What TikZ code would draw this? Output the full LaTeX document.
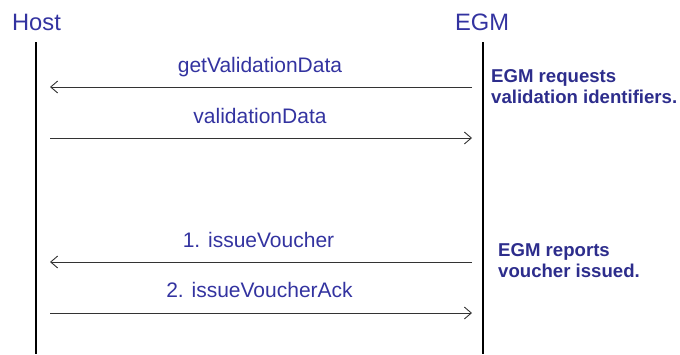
\documentclass[tikz,border=0pt]{standalone}
\usepackage{fontspec}
\setmainfont{Liberation Sans}
\usetikzlibrary{arrows.meta}
\definecolor{lblue}{RGB}{51,51,160}
\definecolor{nblue}{RGB}{45,45,140}
\begin{document}
\begin{tikzpicture}[x=1pt,y=-1pt,
  actor/.style={text=lblue,font=\fontsize{23.7}{26}\selectfont,inner sep=0pt,anchor=base},
  lifeline/.style={line width=2.6pt,black},
  msg/.style={line width=0.9pt,draw=black!80,-{Straight Barb[length=7pt,width=12pt,line width=0.9pt]}},
  mlabel/.style={text=lblue,font=\fontsize{21}{24}\selectfont,inner sep=0pt,anchor=base},
  note/.style={text=nblue,font=\bfseries\fontsize{18.6}{20.5}\selectfont,inner sep=0pt,align=left,anchor=base west}]
\useasboundingbox (0,0) rectangle (680,354);
\node[actor] (host) at (36.5,30) {Host};
\node[actor] (egm) at (482,30) {EGM};
\coordinate (ht) at (36,42); \coordinate (hb) at (36,354);
\coordinate (et) at (483,42); \coordinate (eb) at (483,354);
\draw[lifeline] (ht) -- (hb);
\draw[lifeline] (et) -- (eb);
\coordinate (e1) at (472,87); \coordinate (h1) at (50,87);
\coordinate (h2) at (50,138); \coordinate (e2) at (472,138);
\coordinate (e3) at (472,262); \coordinate (h3) at (50,262);
\coordinate (h4) at (50,313); \coordinate (e4) at (472,313);
\draw[msg] (e1) -- (h1);
\draw[msg] (h2) -- (e2);
\draw[msg] (e3) -- (h3);
\draw[msg] (h4) -- (e4);
\node[mlabel] (l1) at (260,72) {getValidationData};
\node[mlabel] (l2) at (260,123) {validationData};
\node[mlabel] (l3) at (258.5,247) {1. issueVoucher};
\node[mlabel] (l4) at (259.5,297) {2. issueVoucherAck};
\node[note] (n1) at (491,103) {EGM requests\\validation identifiers.};
\node[note] (n2) at (498,277) {EGM reports\\voucher issued.};
\end{tikzpicture}
\end{document}
